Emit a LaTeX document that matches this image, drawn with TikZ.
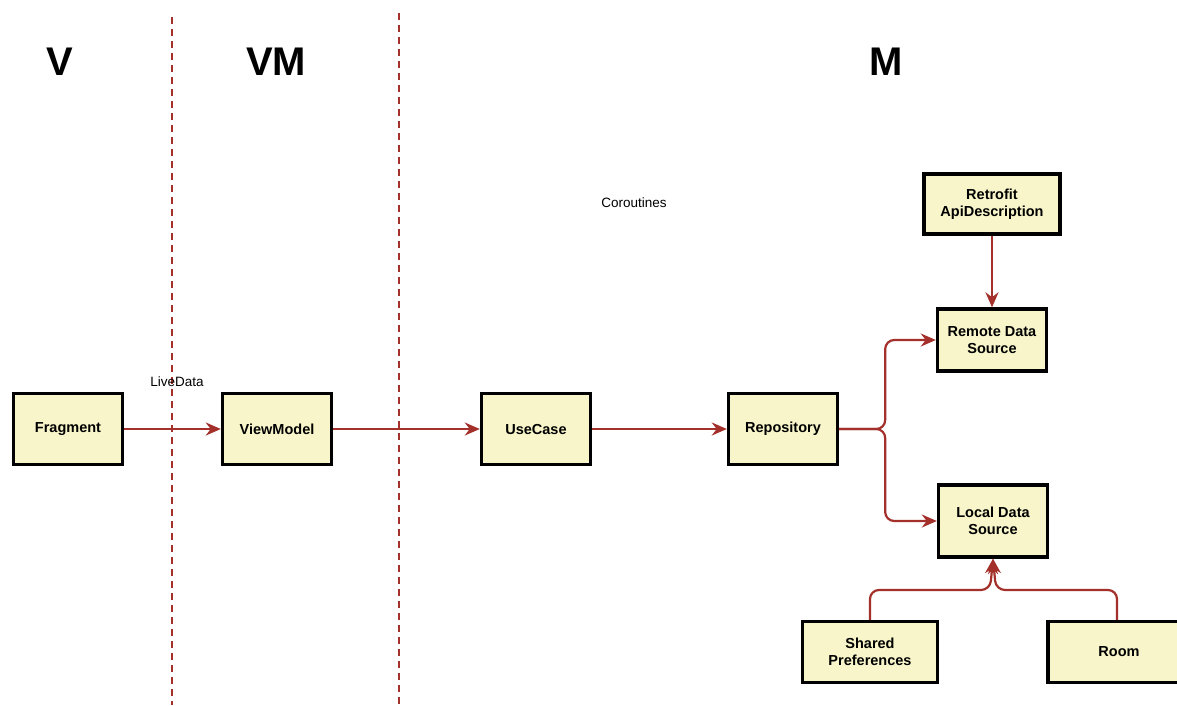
\documentclass[tikz,border=0pt]{standalone}
\usepackage{fontspec}
\setmainfont{Liberation Sans}
\usepackage{tikz}
\usetikzlibrary{arrows.meta}

\definecolor{boxfill}{HTML}{F7F5C9}
\definecolor{linkred}{HTML}{A3302B}

\begin{document}
\begin{tikzpicture}[x=1pt, y=-1pt,
    box/.style={draw=black, line width=3.4pt, fill=boxfill, minimum width=109pt,
      minimum height=71pt, align=center, font=\fontsize{14.5}{17}\selectfont\bfseries,
      inner sep=0pt},
    link/.style={draw=linkred, line width=2.2pt, -{Stealth[length=15pt, width=13pt]},
      rounded corners=9pt},
    layer/.style={font=\fontsize{40}{44}\selectfont\bfseries},
    border/.style={draw=linkred, line width=2.2pt, dash pattern=on 7pt off 5pt}]
      \useasboundingbox (0,0) rectangle (1177,705);
      \fill[white] (0,0) rectangle (1177,705);

      % layers
      \node[layer] (v) at (60, 62) {V};
      \node[layer] (vm) at (276, 62) {VM};
      \node[layer] (m) at (886, 62) {M};
      \coordinate (b1top) at (172, 17);
      \coordinate (b1bot) at (172, 705);
      \coordinate (b2top) at (399, 13);
      \coordinate (b2bot) at (399, 705);
      \draw[border] (b1top) -- (b1bot);
      \draw[border] (b2top) -- (b2bot);

      \node (coro) at (634, 203) {\fontsize{13.5}{15}\selectfont Coroutines};
      \node (live) at (177, 382) {\fontsize{13.5}{15}\selectfont LiveData};

      % boxes
      \node[box] (frag) at (68, 429) {Fragment};
      \node[box] (vmod) at (277, 429) {ViewModel};
      \node[box] (usec) at (536, 429) {UseCase};
      \node[box] (repo) at (783, 429) {Repository};
      \node[box, minimum width=136pt, minimum height=60pt] (retro) at (992, 204) {Retrofit\\ApiDescription};
      \node[box, minimum height=62pt] (remote) at (992, 340) {Remote Data\\Source};
      \node[box, minimum height=72pt] (local) at (993, 521) {Local Data\\Source};
      \node[box, minimum width=135pt, minimum height=61pt] (shared) at (870, 652) {Shared\\Preferences};
      \node[box, minimum width=142pt, minimum height=61pt] (room) at (1119, 652) {Room};

      % links
      \draw[link] (frag) -- (vmod);
      \draw[link] (vmod) -- (usec);
      \draw[link] (usec) -- (repo);
      \draw[link] (repo.east) -- ++(46,0) |- (remote.west);
      \draw[link] (repo.east) -- ++(46,0) |- (local.west);
      \draw[link] (retro) -- (remote);
      \draw[link] (shared.north) |- (990, 590) -- (local.south);
      \draw[link] (room.north -| 1117, 0) |- (996, 590) -- (local.south);
\end{tikzpicture}
\end{document}
